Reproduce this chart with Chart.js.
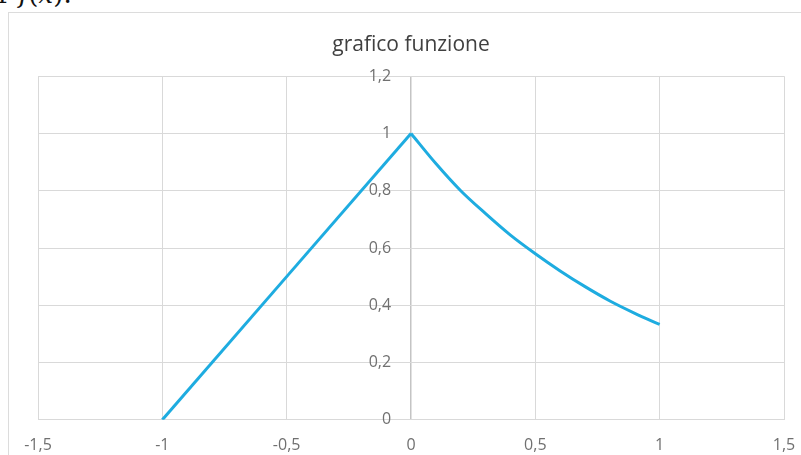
<!DOCTYPE html>
<html>
<head>
<meta charset="utf-8">
<script src="https://cdn.jsdelivr.net/npm/chart.js@4/dist/chart.umd.min.js"></script>
<style>
  html, body { margin: 0; padding: 0; background: #fff; overflow: hidden; }
  #wrap { position: relative; width: 801px; height: 455px; }
  #frame { position: absolute; left: 8px; top: 12px; width: 820px; height: 470px; border: 1px solid #dcdcdc; box-sizing: border-box; }
  #top { position: absolute; left: -2px; top: -21px; font-family: "DejaVu Serif", "Liberation Serif", serif; font-size: 26px; color: #111; white-space: nowrap; }
  #c { position: absolute; left: 0; top: 0; }
</style>
</head>
<body>
<div id="wrap">
  <div id="top">r <i>f</i>(<i>x</i>):</div>
  <div id="frame"></div>
  <canvas id="c" width="801" height="455"></canvas>
</div>
<script>
const chartTitle = "grafico funzione";
const lineX = [-1, -0.5, 0];
const lineY = [0, 0.5, 1];
const curveX = [0, 0.1, 0.2, 0.3, 0.4, 0.5, 0.6, 0.7, 0.8, 0.9, 1];
const curveY = [1, 0.895, 0.80, 0.72, 0.645, 0.58, 0.52, 0.465, 0.415, 0.372, 0.333];
const xTicks = [-1.5, -1, -0.5, 0, 0.5, 1, 1.5];
const yTicks = [0, 0.2, 0.4, 0.6, 0.8, 1, 1.2];

const fmt = v => String(Math.round(v * 10) / 10).replace('.', ',');
const toPts = (xs, ys) => xs.map((x, i) => ({ x: x, y: ys[i] }));
const labelFont = { family: "'Open Sans', sans-serif", size: 16 };
const lineColor = 'rgb(30,172,224)';

new Chart(document.getElementById('c'), {
  type: 'scatter',
  data: {
    datasets: [{
      data: toPts(lineX, lineY),
      showLine: true,
      borderColor: lineColor,
      borderWidth: 3,
      pointRadius: 0,
      pointHoverRadius: 0,
      tension: 0,
      fill: false
    }, {
      data: toPts(curveX, curveY),
      showLine: true,
      borderColor: lineColor,
      borderWidth: 3,
      pointRadius: 0,
      pointHoverRadius: 0,
      cubicInterpolationMode: 'monotone',
      fill: false
    }]
  },
  options: {
    responsive: false,
    animation: false,
    devicePixelRatio: 1,
    layout: { padding: { left: 38, right: 17, top: 10, bottom: 0 } },
    plugins: {
      legend: { display: false },
      tooltip: { enabled: false },
      title: {
        display: true,
        text: chartTitle,
        color: '#404040',
        font: { family: "'Open Sans', sans-serif", size: 21, weight: 'normal' },
        padding: { top: 22, bottom: 19 }
      }
    },
    scales: {
      x: {
        type: 'linear',
        position: 'bottom',
        min: -1.5,
        max: 1.5,
        afterBuildTicks: s => { s.ticks = xTicks.map(v => ({ value: v })); },
        ticks: { callback: v => fmt(v), color: '#707070', font: labelFont, padding: 0, maxRotation: 0 },
        grid: {
          color: ctx => (ctx.tick && ctx.tick.value === 0) ? '#c4c4c4' : '#d9d9d9',
          lineWidth: ctx => (ctx.tick && ctx.tick.value === 0) ? 1.5 : 1,
          drawTicks: true, tickLength: 16, tickColor: 'rgba(0,0,0,0)'
        },
        border: { display: false }
      },
      y: {
        type: 'linear',
        position: { x: -0.08 },
        min: 0,
        max: 1.2,
        afterBuildTicks: s => { s.ticks = yTicks.map(v => ({ value: v })); },
        ticks: { callback: v => fmt(v), color: '#707070', font: labelFont },
        grid: { color: '#d9d9d9', lineWidth: 1, drawTicks: false, tickLength: 0 },
        border: { display: false }
      }
    }
  }
});
</script>
</body>
</html>
